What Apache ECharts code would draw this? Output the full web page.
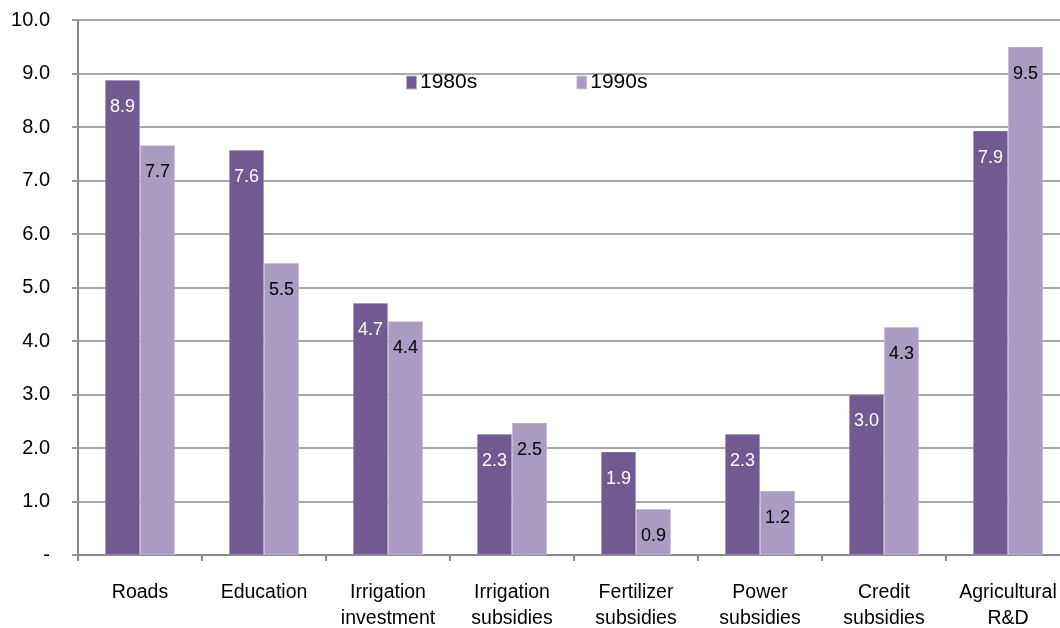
<!DOCTYPE html>
<html>
<head>
<meta charset="utf-8">
<script src="https://cdn.jsdelivr.net/npm/echarts@6/dist/echarts.min.js"></script>
<style>
html,body{margin:0;padding:0;background:#fff;overflow:hidden;}
#chart{width:1060px;height:628px;}
</style>
</head>
<body>
<div id="chart"></div>
<script>
const categories = ["Roads", "Education", "Irrigation\ninvestment", "Irrigation\nsubsidies", "Fertilizer\nsubsidies", "Power\nsubsidies", "Credit\nsubsidies", "Agricultural\nR&D"];
const series1980s = [8.88, 7.57, 4.71, 2.26, 1.93, 2.26, 3.0, 7.93];
const series1990s = [7.66, 5.46, 4.37, 2.47, 0.86, 1.2, 4.26, 9.5];
const seriesNames = ["1980s", "1990s"];
const yTicks = [0, 1, 2, 3, 4, 5, 6, 7, 8, 9, 10];

const FONT = '"Liberation Sans", Arial, sans-serif';
const chart = echarts.init(document.getElementById('chart'), null, {renderer: 'canvas'});
chart.setOption({
  animation: false,
  backgroundColor: '#ffffff',
  textStyle: {fontFamily: FONT},
  legend: {
    left: 400, top: 67,
    icon: 'rect',
    itemWidth: 11, itemHeight: 14, itemGap: 98,
    textStyle: {fontSize: 21, color: '#000', fontFamily: FONT, padding: [0, 0, 0, -2]},
    data: seriesNames
  },
  grid: {left: 78, width: 992, top: 20, bottom: 73, containLabel: false, outerBoundsMode: 'none'},
  xAxis: {
    type: 'category',
    data: categories,
    axisLine: {lineStyle: {color: '#888', width: 2}},
    axisTick: {show: true, length: 6, lineStyle: {color: '#888', width: 2}},
    axisLabel: {fontSize: 19.5, color: '#000', fontFamily: FONT, margin: 25, lineHeight: 26, interval: 0}
  },
  yAxis: {
    type: 'value', min: yTicks[0], max: yTicks[yTicks.length - 1], interval: 1,
    axisLine: {show: true, lineStyle: {color: '#888', width: 2}},
    axisTick: {show: true, length: 6, lineStyle: {color: '#999', width: 2}},
    splitLine: {lineStyle: {color: '#a6a6a6', width: 2}},
    axisLabel: {
      fontSize: 20, color: '#000', fontFamily: FONT, margin: 28,
      formatter: v => v === 0 ? '-' : v.toFixed(1)
    }
  },
  series: [
    {
      name: seriesNames[0], type: 'bar', data: series1980s,
      barWidth: 35, barGap: '0%',
      itemStyle: {color: '#705A91', borderColor: 'rgba(255,255,255,0.5)', borderWidth: 0.5},
      label: {show: true, position: 'insideTop', distance: 18, color: '#fff', fontSize: 18, fontFamily: FONT,
        formatter: p => p.value.toFixed(1)}
    },
    {
      name: seriesNames[1], type: 'bar', data: series1990s,
      barWidth: 35, barGap: '0%',
      itemStyle: {color: '#A99BC1', borderColor: 'rgba(255,255,255,0.5)', borderWidth: 0.5},
      label: {show: true, position: 'insideTop', distance: 18, color: '#000', fontSize: 18, fontFamily: FONT,
        formatter: p => p.value.toFixed(1)}
    }
  ]
});
</script>
</body>
</html>
